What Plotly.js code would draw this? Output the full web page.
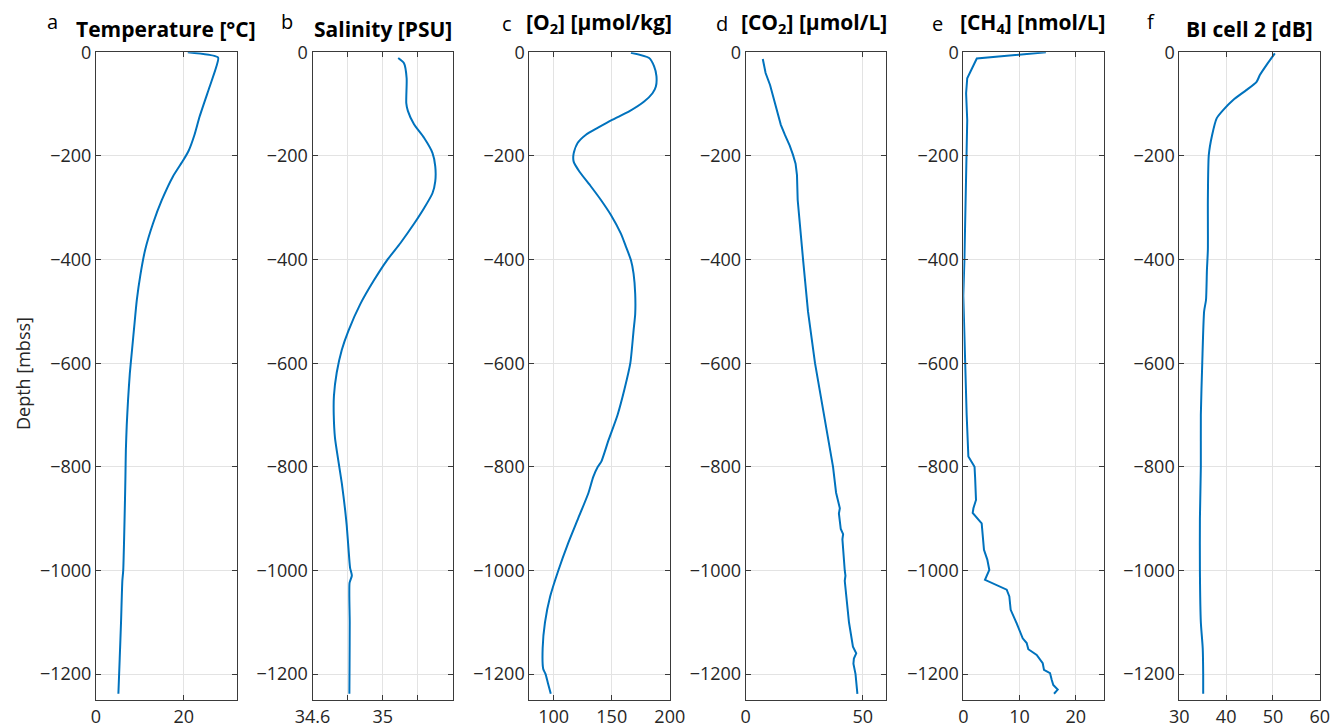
<!DOCTYPE html>
<html><head><meta charset="utf-8">
<script src="https://cdn.plot.ly/plotly-3.0.1.min.js"></script>
<style>html,body{margin:0;padding:0;background:#fff}#plot{width:1332px;height:728px}</style>
</head><body><div id="plot"></div>
<script>
// ---- data (depth in mbss, negative down) ----
const depthT = [0,-10,-28,-66,-124,-160,-190,-208,-240,-285,-330,-381,-430,-478,-530,-575,-620,-671,-720,-768,-820,-864,-940,-1000,-1020,-1100,-1170,-1238];
const temperature = [20.9,27.8,27.4,25.9,23.6,22.4,21.1,19.9,17.5,15.0,13.0,11.2,10.1,9.3,8.7,8.2,7.7,7.3,7.0,6.8,6.7,6.6,6.4,6.2,6.0,5.7,5.4,5.1];

const depthS = [-11,-21,-50,-98,-113,-139,-165,-194,-220,-249,-272,-301,-331,-368,-401,-441,-486,-537,-574,-618,-663,-700,-744,-788,-832,-884,-914,-958,-995,-1010,-1024,-1100,-1180,-1238];
const salinity = [35.088,35.121,35.136,35.134,35.143,35.178,35.235,35.283,35.299,35.299,35.283,35.235,35.178,35.101,35.025,34.948,34.872,34.805,34.767,34.738,34.722,34.721,34.728,34.747,34.767,34.786,34.795,34.805,34.814,34.824,34.811,34.812,34.811,34.810];

const depthO = [-1,-11,-27,-46,-66,-79,-95,-114,-130,-146,-159,-175,-195,-211,-230,-259,-285,-314,-350,-375,-401,-427,-466,-505,-537,-600,-650,-700,-750,-790,-800,-820,-850,-900,-950,-1000,-1050,-1100,-1150,-1190,-1200,-1217,-1238];
const oxygen = [166.5,182.2,186.5,188.5,188,185.1,177.9,165,150.7,137.8,127.8,120.6,117.2,117.2,122.1,132.1,140.7,149.3,157.9,162.2,166.5,168.8,170.2,170.2,168.8,166,161,155,147,141,138,134,130,121,112,104,97,92.5,90.5,91,93,95,97.5];

const depthC = [-13,-40,-63,-90,-116,-140,-160,-180,-198,-215,-237,-285,-400,-500,-600,-700,-800,-850,-870,-880,-890,-920,-930,-940,-1000,-1010,-1020,-1100,-1147,-1160,-1170,-1180,-1200,-1238];
const co2 = [7.3,8.5,10.4,12,13.4,15,16.8,18.8,20.2,21.3,21.9,22.2,24.5,26.6,29.6,33.5,37.3,38.6,39.6,40.2,39.8,40.6,41.6,41.3,42.3,42.6,42.3,44.1,45.8,47.2,46.2,46,46.9,47.7];

const depthM = [0,-12,-50,-79,-131,-200,-300,-400,-470,-550,-600,-700,-780,-790,-800,-820,-864,-880,-889,-909,-928,-960,-979,-999,-1018,-1037,-1050,-1076,-1102,-1131,-1140,-1152,-1163,-1179,-1192,-1198,-1211,-1221,-1230,-1238];
const ch4 = [14.7,2.4,0.7,0.5,0.7,0.6,0.4,0.2,0,0.2,0.3,0.6,0.9,1.4,2.0,2.1,2.26,1.8,1.67,3.27,3.45,3.68,4.27,4.63,3.86,7.72,8.19,8.43,9.5,10.57,11.28,11.57,13.06,14.13,14.36,15.43,15.73,16.01,16.8,16.14];

const depthB = [-2,-21,-44,-57,-73,-92,-111,-127,-160,-198,-285,-381,-420,-478,-500,-600,-700,-800,-900,-1000,-1100,-1150,-1200,-1238];
const backscatter = [50.4,48.9,47.2,46.5,44.3,41.5,39.4,38,37,36.3,36.1,36.1,35.9,35.7,35.3,34.9,34.6,34.6,34.4,34.4,34.6,35.0,35.1,35.1];

const panelLetters = ['a','b','c','d','e','f'];
const panelTitles = ['Temperature [°C]','Salinity [PSU]','[O<sub>2</sub>] [μmol/kg]','[CO<sub>2</sub>] [μmol/L]','[CH<sub>4</sub>] [nmol/L]','BI cell 2 [dB]'];
const depthTicks = [0,-200,-400,-600,-800,-1000,-1200];
const salTickVals = [34.6,35.0];
const salTickText = ['34.6','35'];
const yTitle = 'Depth [mbss]';

// ---- layout ----
const W = 1332, H = 728;
const px = x => x / W, py = y => 1 - y / H;
const left = [96, 312.5, 529.3, 745.7, 963.3, 1179.3];
const pw = 140.5;
const yTop = 52.3, yBot = 700;
const xRanges = [[0,32],[34.6,35.4],[79,200],[0,60],[0,25],[30,60]];
const xD = [20, 0.2, 50, 50, 10, 10];
const smooth = [true, true, true, false, false, true];

const series = [
  [temperature, depthT],[salinity, depthS],[oxygen, depthO],[co2, depthC],[ch4, depthM],[backscatter, depthB]
];
const lineColor = '#0072BD';
const traces = series.map((s,i) => ({
  x: s[0], y: s[1], type: 'scatter', mode: 'lines',
  line: smooth[i] ? {color: lineColor, width: 2, shape: 'spline', smoothing: 0.6} : {color: lineColor, width: 2},
  xaxis: i === 0 ? 'x' : 'x' + (i+1),
  yaxis: i === 0 ? 'y' : 'y' + (i+1),
  hoverinfo: 'skip'
}));

const font = {family: '"Open Sans", "DejaVu Sans", sans-serif', size: 18, color: '#262626'};
const layout = {
  width: W, height: H,
  margin: {l:0, r:0, t:0, b:0, pad:0},
  paper_bgcolor: '#fff', plot_bgcolor: '#fff',
  showlegend: false,
  font: font,
  annotations: []
};
const axCommon = {
  showline: true, linecolor: '#3a3a3a', linewidth: 1, mirror: 'ticks',
  ticks: 'inside', ticklen: 5, tickwidth: 1, tickcolor: '#3a3a3a',
  showgrid: true, gridcolor: '#e3e3e3', gridwidth: 1, zeroline: false,
  automargin: false, fixedrange: true, tickfont: font
};
for (let i = 0; i < 6; i++) {
  const sfx = i === 0 ? '' : String(i+1);
  const xa = Object.assign({}, axCommon, {
    domain: [px(left[i]), px(left[i] + pw)],
    range: xRanges[i], anchor: 'y' + sfx, side: 'bottom'
  });
  if (i === 1) {
    xa.tickmode = 'array'; xa.tickvals = salTickVals; xa.ticktext = salTickText;
    xa.minor = {tick0: 34.6, dtick: xD[1], showgrid: true, gridcolor: '#e3e3e3', gridwidth: 1,
                ticks: 'inside', ticklen: 5, tickcolor: '#3a3a3a', tickwidth: 1};
  } else { xa.tickmode = 'linear'; xa.tick0 = 0; xa.dtick = xD[i]; }
  const ya = Object.assign({}, axCommon, {
    domain: [py(yBot), py(yTop)], range: [-1250, 0],
    anchor: 'x' + sfx, tickmode: 'array', tickvals: depthTicks
  });
  layout['xaxis' + sfx] = xa;
  layout['yaxis' + sfx] = ya;
}

// titles and letters
const titleCenters = [166.3, 382.8, 598.5, 814, 1033, 1249.5];
const titleY = [29.5, 29.5, 23, 23, 23, 29.5];
const letterX = [52.5, 287, 507.5, 722, 937.5, 1151];
const letterY = [21, 21, 23, 23, 23, 21];
for (let i = 0; i < 6; i++) {
  layout.annotations.push({
    xref:'paper', yref:'paper', x: px(titleCenters[i]), y: py(titleY[i]),
    xanchor:'center', yanchor:'middle', showarrow:false,
    text: '<b>' + panelTitles[i] + '</b>',
    font: {family: font.family, size: 21, color: '#000'}
  });
  layout.annotations.push({
    xref:'paper', yref:'paper', x: px(letterX[i]), y: py(letterY[i]),
    xanchor:'center', yanchor:'middle', showarrow:false,
    text: panelLetters[i],
    font: {family: font.family, size: 20, color: '#000'}
  });
}
layout.annotations.push({
  xref:'paper', yref:'paper', x: px(23), y: py(374), textangle: -90,
  xanchor:'center', yanchor:'middle', showarrow:false, text: yTitle,
  font: {family: font.family, size: 18, color: '#262626'}
});

Plotly.newPlot('plot', traces, layout, {staticPlot: true, displayModeBar: false});
</script></body></html>
